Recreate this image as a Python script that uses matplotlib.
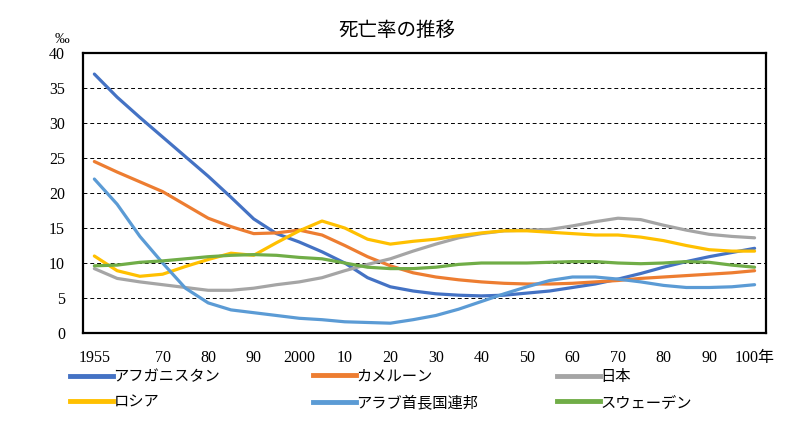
import numpy as np
import matplotlib.pyplot as plt
from matplotlib.lines import Line2D

# Fonts: serif digits, Japanese falls back to Noto Sans CJK JP
plt.rcParams['font.family'] = ['Liberation Serif', 'Noto Sans CJK JP']

years = list(range(1955, 2101, 5))

afghanistan = [37.0, 33.7, 30.8, 28.0, 25.2, 22.4, 19.4, 16.3, 14.2, 13.0, 11.6, 10.0, 7.9, 6.6, 6.0,
               5.6, 5.4, 5.3, 5.4, 5.7, 6.0, 6.5, 7.0, 7.7, 8.5, 9.4, 10.2, 10.9, 11.5, 12.1]
cameroon = [24.5, 23.0, 21.6, 20.2, 18.3, 16.4, 15.2, 14.2, 14.3, 14.7, 14.0, 12.5, 10.9, 9.6, 8.6,
            8.0, 7.6, 7.3, 7.1, 7.0, 7.0, 7.1, 7.3, 7.5, 7.8, 8.0, 8.2, 8.4, 8.6, 8.9]
japan = [9.2, 7.8, 7.3, 6.9, 6.5, 6.1, 6.1, 6.4, 6.9, 7.3, 7.9, 8.9, 9.8, 10.6, 11.7,
         12.7, 13.6, 14.2, 14.6, 14.7, 14.8, 15.3, 15.9, 16.4, 16.2, 15.4, 14.7, 14.1, 13.8, 13.6]
russia = [11.0, 8.9, 8.1, 8.4, 9.5, 10.5, 11.4, 11.1, 12.9, 14.6, 16.0, 15.0, 13.4, 12.7, 13.1,
          13.4, 13.9, 14.3, 14.6, 14.6, 14.4, 14.2, 14.0, 14.0, 13.7, 13.2, 12.5, 11.9, 11.7, 11.7]
uae = [22.0, 18.4, 13.8, 10.0, 6.4, 4.3, 3.3, 2.9, 2.5, 2.1, 1.9, 1.6, 1.5, 1.4, 1.9,
       2.5, 3.4, 4.5, 5.6, 6.6, 7.5, 8.0, 8.0, 7.7, 7.3, 6.8, 6.5, 6.5, 6.6, 6.9]
sweden = [9.6, 9.7, 10.1, 10.3, 10.6, 10.9, 11.1, 11.2, 11.1, 10.8, 10.6, 10.0, 9.4, 9.2, 9.2,
          9.4, 9.8, 10.0, 10.0, 10.0, 10.1, 10.2, 10.2, 10.0, 9.9, 10.0, 10.2, 10.1, 9.7, 9.4]

series = [
    ("アフガニスタン", afghanistan, "#4472C4"),
    ("カメルーン", cameroon, "#ED7D31"),
    ("日本", japan, "#A5A5A5"),
    ("ロシア", russia, "#FFC000"),
    ("アラブ首長国連邦", uae, "#5B9BD5"),
    ("スウェーデン", sweden, "#70AD47"),
]

tick_years = [1955, 1970, 1980, 1990, 2000, 2010, 2020, 2030, 2040, 2050, 2060, 2070, 2080, 2090, 2100]
tick_labels = ["1955", "70", "80", "90", "2000", "10", "20", "30", "40", "50", "60", "70", "80", "90", "100年"]

fig = plt.figure(figsize=(7.94, 4.28), dpi=100)
ax = fig.add_axes([0.1045, 0.222, 0.8602, 0.654])

for name, vals, col in series:
    ax.plot(years, vals, color=col, lw=2.3, solid_joinstyle='round', solid_capstyle='round', label=name)

ax.set_xlim(1952.5, 2102.5)
ax.set_ylim(0, 40)
ax.set_yticks(range(0, 41, 5))
ax.set_xticks(tick_years)
ax.set_xticklabels(tick_labels)
ax.tick_params(length=0, labelsize=11.5)
ax.tick_params(axis='x', pad=12)
ax.tick_params(axis='y', pad=13)

for y in range(5, 40, 5):
    ax.axhline(y, color='black', lw=0.7, ls=(0, (4, 3)), zorder=0)
for s in ax.spines.values():
    s.set_color('black')
    s.set_linewidth(1.6)

ax.text(-0.03, 1.025, "‰", transform=ax.transAxes, fontsize=10.5, ha='center', va='bottom')
fig.text(0.5, 0.928, "死亡率の推移", ha='center', va='center', fontsize=14)

# legend laid out like the original: three columns, two rows
col_x = [70, 313, 557]
for c in range(3):
    hs = []
    for r in range(2):
        name, vals, col = series[r * 3 + c]
        hs.append(Line2D([], [], color=col, lw=3.5, label=name))
    fig.legend(handles=hs, loc='center left', bbox_to_anchor=(col_x[c] / 794, 1 - 390 / 428),
               frameon=False, fontsize=11, handlelength=2.8, handletextpad=0.05,
               borderpad=0, borderaxespad=0, labelspacing=0.75)

fig.savefig("out.png", dpi=100)
